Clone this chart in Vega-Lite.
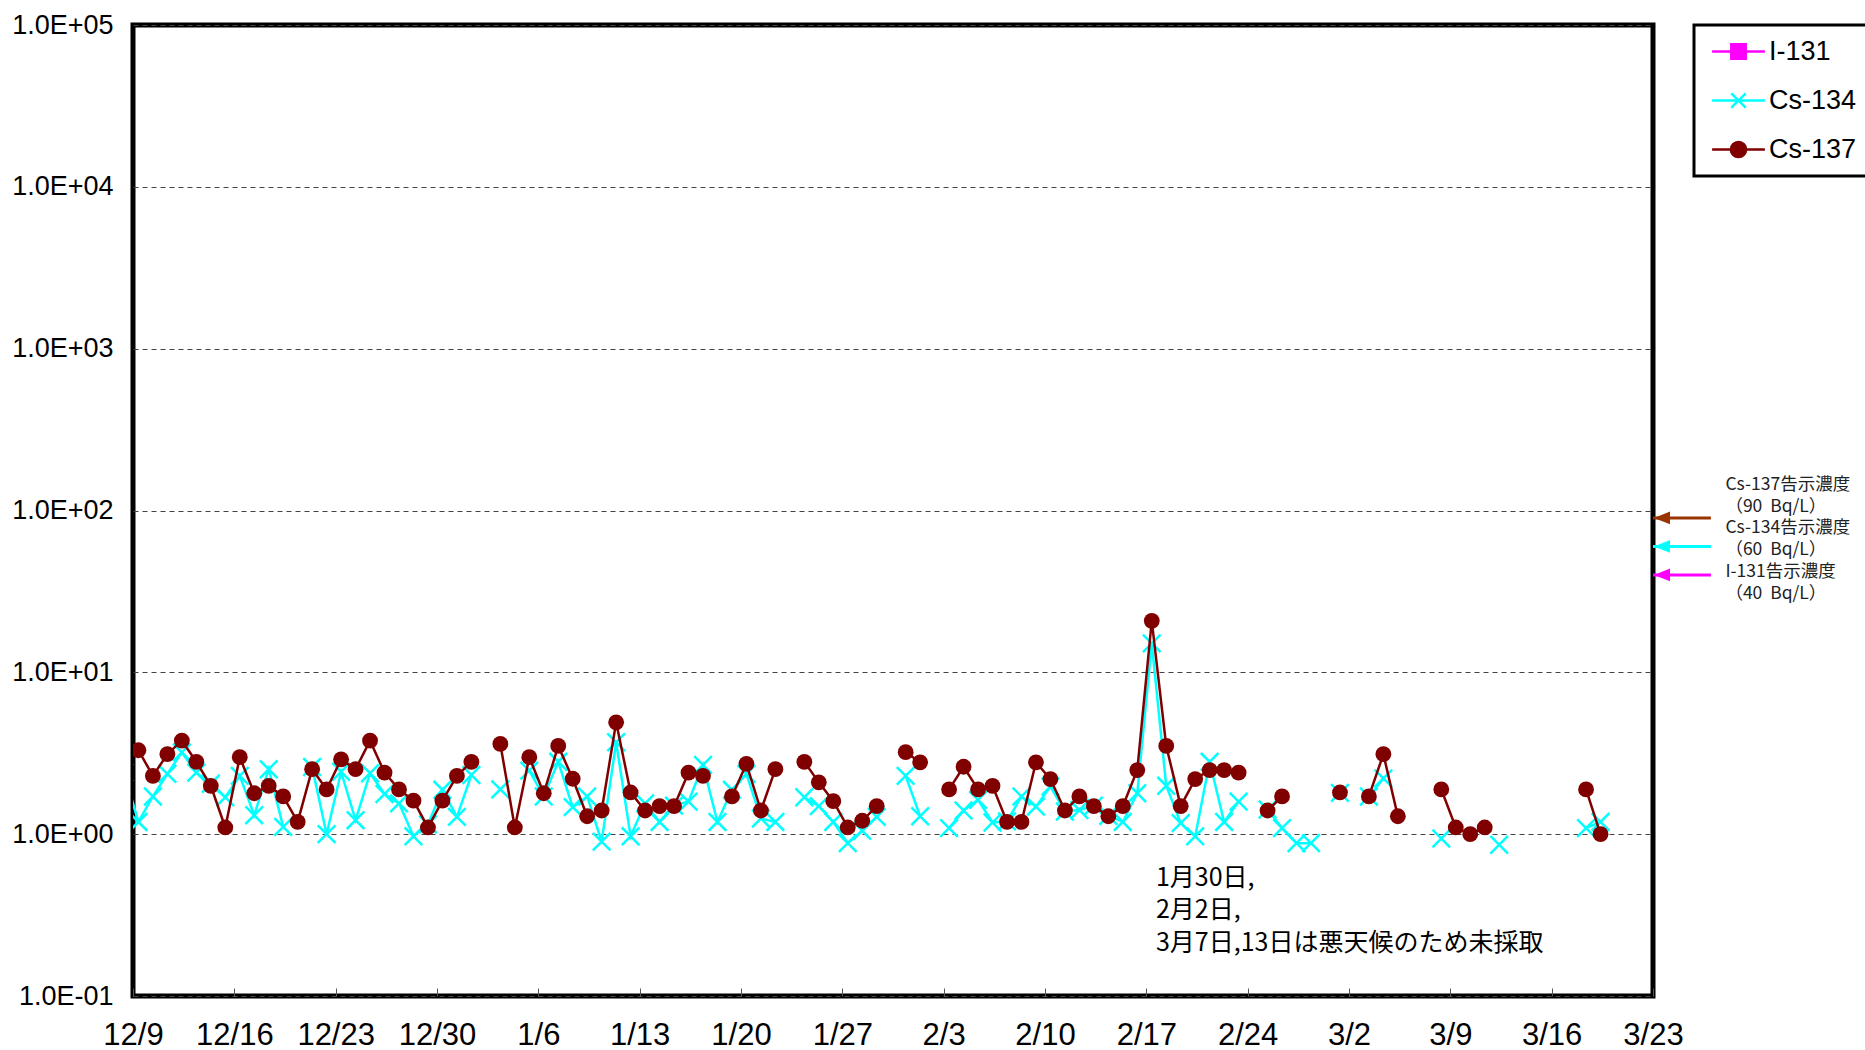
{
  "$schema": "https://vega.github.io/schema/vega-lite/v6.json",
  "width": 1520,
  "height": 971,
  "autosize": {"type": "none"},
  "padding": {"left": 133, "top": 25, "right": 212, "bottom": 54},
  "background": "white",
  "config": {
    "view": {"stroke": "black", "strokeWidth": 5},
    "font": "Liberation Sans",
    "axisX": {"title": null, "domain": false, "grid": false, "ticks": true, "tickSize": -8, "tickColor": "#555", "tickWidth": 1,
              "labelFont": "Liberation Sans Narrow, Liberation Sans", "labelFontSize": 31, "labelColor": "black",
              "labelPadding": 32, "labelFlush": false, "labelOverlap": false},
    "axisY": {"title": null, "domain": false, "ticks": false, "grid": true, "gridColor": "#444", "gridDash": [5, 4], "gridWidth": 1,
              "labelFont": "Liberation Sans", "labelFontSize": 27, "labelColor": "black", "labelPadding": 20}
  },
  "datasets": {
    "meas": [
      {"d":"2011-12-08T09:00","cs134":2.4,"cs137":3.6},
      {"d":"2011-12-09T09:00","cs134":1.19,"cs137":3.3},
      {"d":"2011-12-10T09:00","cs134":1.71,"cs137":2.29},
      {"d":"2011-12-11T09:00","cs134":2.36,"cs137":3.12},
      {"d":"2011-12-12T09:00","cs134":3.2,"cs137":3.78},
      {"d":"2011-12-13T09:00","cs134":2.4,"cs137":2.8},
      {"d":"2011-12-14T09:00","cs134":2.05,"cs137":1.99},
      {"d":"2011-12-15T09:00","cs134":1.69,"cs137":1.1},
      {"d":"2011-12-16T09:00","cs134":2.29,"cs137":2.99},
      {"d":"2011-12-17T09:00","cs134":1.31,"cs137":1.79},
      {"d":"2011-12-18T09:00","cs134":2.52,"cs137":1.99},
      {"d":"2011-12-19T09:00","cs134":1.11,"cs137":1.71},
      {"d":"2011-12-20T09:00","cs134":null,"cs137":1.19},
      {"d":"2011-12-21T09:00","cs134":2.6,"cs137":2.52},
      {"d":"2011-12-22T09:00","cs134":1.0,"cs137":1.89},
      {"d":"2011-12-23T09:00","cs134":2.43,"cs137":2.9},
      {"d":"2011-12-24T09:00","cs134":1.22,"cs137":2.52},
      {"d":"2011-12-25T09:00","cs134":2.38,"cs137":3.78},
      {"d":"2011-12-26T09:00","cs134":1.77,"cs137":2.4},
      {"d":"2011-12-27T09:00","cs134":1.55,"cs137":1.89},
      {"d":"2011-12-28T09:00","cs134":0.97,"cs137":1.61},
      {"d":"2011-12-29T09:00","cs134":1.15,"cs137":1.1},
      {"d":"2011-12-30T09:00","cs134":1.88,"cs137":1.61},
      {"d":"2011-12-31T09:00","cs134":1.28,"cs137":2.29},
      {"d":"2012-01-01T09:00","cs134":2.32,"cs137":2.8},
      {"d":"2012-01-02T09:00","cs134":null,"cs137":null},
      {"d":"2012-01-03T09:00","cs134":1.89,"cs137":3.61},
      {"d":"2012-01-04T09:00","cs134":null,"cs137":1.1},
      {"d":"2012-01-05T09:00","cs134":2.47,"cs137":2.99},
      {"d":"2012-01-06T09:00","cs134":1.71,"cs137":1.79},
      {"d":"2012-01-07T09:00","cs134":2.8,"cs137":3.51},
      {"d":"2012-01-08T09:00","cs134":1.47,"cs137":2.2},
      {"d":"2012-01-09T09:00","cs134":1.71,"cs137":1.29},
      {"d":"2012-01-10T09:00","cs134":0.9,"cs137":1.4},
      {"d":"2012-01-11T09:00","cs134":3.7,"cs137":4.91},
      {"d":"2012-01-12T09:00","cs134":0.97,"cs137":1.81},
      {"d":"2012-01-13T09:00","cs134":1.55,"cs137":1.4},
      {"d":"2012-01-14T09:00","cs134":1.19,"cs137":1.49},
      {"d":"2012-01-15T09:00","cs134":1.5,"cs137":1.49},
      {"d":"2012-01-16T09:00","cs134":1.59,"cs137":2.4},
      {"d":"2012-01-17T09:00","cs134":2.68,"cs137":2.29},
      {"d":"2012-01-18T09:00","cs134":1.19,"cs137":null},
      {"d":"2012-01-19T09:00","cs134":1.88,"cs137":1.71},
      {"d":"2012-01-20T09:00","cs134":2.36,"cs137":2.72},
      {"d":"2012-01-21T09:00","cs134":1.25,"cs137":1.4},
      {"d":"2012-01-22T09:00","cs134":1.19,"cs137":2.52},
      {"d":"2012-01-23T09:00","cs134":null,"cs137":null},
      {"d":"2012-01-24T09:00","cs134":1.69,"cs137":2.8},
      {"d":"2012-01-25T09:00","cs134":1.49,"cs137":2.09},
      {"d":"2012-01-26T09:00","cs134":1.19,"cs137":1.6},
      {"d":"2012-01-27T09:00","cs134":0.88,"cs137":1.1},
      {"d":"2012-01-28T09:00","cs134":1.05,"cs137":1.21},
      {"d":"2012-01-29T09:00","cs134":1.28,"cs137":1.49},
      {"d":"2012-01-30T09:00","cs134":null,"cs137":null},
      {"d":"2012-01-31T09:00","cs134":2.29,"cs137":3.21},
      {"d":"2012-02-01T09:00","cs134":1.29,"cs137":2.78},
      {"d":"2012-02-02T09:00","cs134":null,"cs137":null},
      {"d":"2012-02-03T09:00","cs134":1.09,"cs137":1.89},
      {"d":"2012-02-04T09:00","cs134":1.4,"cs137":2.61},
      {"d":"2012-02-05T09:00","cs134":1.63,"cs137":1.89},
      {"d":"2012-02-06T09:00","cs134":1.18,"cs137":1.99},
      {"d":"2012-02-07T09:00","cs134":1.2,"cs137":1.19},
      {"d":"2012-02-08T09:00","cs134":1.71,"cs137":1.19},
      {"d":"2012-02-09T09:00","cs134":1.48,"cs137":2.78},
      {"d":"2012-02-10T09:00","cs134":1.97,"cs137":2.19},
      {"d":"2012-02-11T09:00","cs134":1.38,"cs137":1.4},
      {"d":"2012-02-12T09:00","cs134":1.41,"cs137":1.71},
      {"d":"2012-02-13T09:00","cs134":1.5,"cs137":1.49},
      {"d":"2012-02-14T09:00","cs134":1.3,"cs137":1.29},
      {"d":"2012-02-15T09:00","cs134":1.19,"cs137":1.49},
      {"d":"2012-02-16T09:00","cs134":1.79,"cs137":2.49},
      {"d":"2012-02-17T09:00","cs134":15.1,"cs137":20.8},
      {"d":"2012-02-18T09:00","cs134":1.99,"cs137":3.51},
      {"d":"2012-02-19T09:00","cs134":1.17,"cs137":1.49},
      {"d":"2012-02-20T09:00","cs134":0.97,"cs137":2.19},
      {"d":"2012-02-21T09:00","cs134":2.8,"cs137":2.49},
      {"d":"2012-02-22T09:00","cs134":1.19,"cs137":2.49},
      {"d":"2012-02-23T09:00","cs134":1.59,"cs137":2.4},
      {"d":"2012-02-24T09:00","cs134":null,"cs137":null},
      {"d":"2012-02-25T09:00","cs134":1.42,"cs137":1.4},
      {"d":"2012-02-26T09:00","cs134":1.09,"cs137":1.71},
      {"d":"2012-02-27T09:00","cs134":0.88,"cs137":null},
      {"d":"2012-02-28T09:00","cs134":0.88,"cs137":null},
      {"d":"2012-02-29T09:00","cs134":null,"cs137":null},
      {"d":"2012-03-01T09:00","cs134":1.8,"cs137":1.81},
      {"d":"2012-03-02T09:00","cs134":null,"cs137":null},
      {"d":"2012-03-03T09:00","cs134":1.71,"cs137":1.71},
      {"d":"2012-03-04T09:00","cs134":2.21,"cs137":3.12},
      {"d":"2012-03-05T09:00","cs134":null,"cs137":1.29},
      {"d":"2012-03-06T09:00","cs134":null,"cs137":null},
      {"d":"2012-03-07T09:00","cs134":null,"cs137":null},
      {"d":"2012-03-08T09:00","cs134":0.94,"cs137":1.89},
      {"d":"2012-03-09T09:00","cs134":null,"cs137":1.1},
      {"d":"2012-03-10T09:00","cs134":null,"cs137":1.0},
      {"d":"2012-03-11T09:00","cs134":null,"cs137":1.1},
      {"d":"2012-03-12T09:00","cs134":0.86,"cs137":null},
      {"d":"2012-03-13T09:00","cs134":null,"cs137":null},
      {"d":"2012-03-14T09:00","cs134":null,"cs137":null},
      {"d":"2012-03-15T09:00","cs134":null,"cs137":null},
      {"d":"2012-03-16T09:00","cs134":null,"cs137":null},
      {"d":"2012-03-17T09:00","cs134":null,"cs137":null},
      {"d":"2012-03-18T09:00","cs134":1.09,"cs137":1.89},
      {"d":"2012-03-19T09:00","cs134":1.19,"cs137":1.0}
    ],
    "limits": [
      {"nuclide":"I-131","limit":40},
      {"nuclide":"Cs-134","limit":60},
      {"nuclide":"Cs-137","limit":90}
    ],
    "nuclides": [
      {"nuclide":"I-131"},
      {"nuclide":"Cs-134"},
      {"nuclide":"Cs-137"}
    ]
  },
  "resolve": {"scale": {"color": "independent", "fill": "independent", "stroke": "independent", "shape": "independent"}},
  "layer": [
    {
      "data": {"name": "meas"},
      "mark": {"type": "line", "color": "#00FFFF", "strokeWidth": 2.5, "clip": true, "invalid": "break-paths-filter-domains"},
      "encoding": {
        "x": {"field": "d", "type": "temporal",
              "scale": {"type": "time", "domain": [{"year":2011,"month":12,"date":9},{"year":2012,"month":3,"date":23}]},
              "axis": {"title": null, "format": "%-m/%-d",
                       "values": [{"year":2011,"month":12,"date":9},{"year":2011,"month":12,"date":16},{"year":2011,"month":12,"date":23},{"year":2011,"month":12,"date":30},
                                  {"year":2012,"month":1,"date":6},{"year":2012,"month":1,"date":13},{"year":2012,"month":1,"date":20},{"year":2012,"month":1,"date":27},
                                  {"year":2012,"month":2,"date":3},{"year":2012,"month":2,"date":10},{"year":2012,"month":2,"date":17},{"year":2012,"month":2,"date":24},
                                  {"year":2012,"month":3,"date":2},{"year":2012,"month":3,"date":9},{"year":2012,"month":3,"date":16},{"year":2012,"month":3,"date":23}]}},
        "y": {"field": "cs134", "type": "quantitative",
              "scale": {"type": "log", "domain": [0.1, 100000], "nice": false},
              "axis": {"title": null, "values": [0.1, 1, 10, 100, 1000, 10000, 100000],
                       "labelExpr": "datum.value >= 1 ? '1.0E+0' + format(log(datum.value)/LN10, '.0f') : '1.0E-0' + format(-log(datum.value)/LN10, '.0f')"}}
      }
    },
    {
      "data": {"name": "meas"},
      "mark": {"type": "point", "shape": "M-1,-1L1,1M-1,1L1,-1", "size": 310, "strokeWidth": 2.5, "color": "#00FFFF", "filled": false, "opacity": 1, "clip": true},
      "encoding": {
        "x": {"field": "d", "type": "temporal",
              "scale": {"type": "time", "domain": [{"year":2011,"month":12,"date":9},{"year":2012,"month":3,"date":23}]},
              "axis": {"title": null, "format": "%-m/%-d",
                       "values": [{"year":2011,"month":12,"date":9},{"year":2011,"month":12,"date":16},{"year":2011,"month":12,"date":23},{"year":2011,"month":12,"date":30},
                                  {"year":2012,"month":1,"date":6},{"year":2012,"month":1,"date":13},{"year":2012,"month":1,"date":20},{"year":2012,"month":1,"date":27},
                                  {"year":2012,"month":2,"date":3},{"year":2012,"month":2,"date":10},{"year":2012,"month":2,"date":17},{"year":2012,"month":2,"date":24},
                                  {"year":2012,"month":3,"date":2},{"year":2012,"month":3,"date":9},{"year":2012,"month":3,"date":16},{"year":2012,"month":3,"date":23}]}},
        "y": {"field": "cs134", "type": "quantitative",
              "scale": {"type": "log", "domain": [0.1, 100000], "nice": false},
              "axis": {"title": null, "values": [0.1, 1, 10, 100, 1000, 10000, 100000],
                       "labelExpr": "datum.value >= 1 ? '1.0E+0' + format(log(datum.value)/LN10, '.0f') : '1.0E-0' + format(-log(datum.value)/LN10, '.0f')"}}
      }
    },
    {
      "data": {"name": "meas"},
      "mark": {"type": "line", "color": "#800000", "strokeWidth": 2.5, "clip": true, "invalid": "break-paths-filter-domains"},
      "encoding": {
        "x": {"field": "d", "type": "temporal",
              "scale": {"type": "time", "domain": [{"year":2011,"month":12,"date":9},{"year":2012,"month":3,"date":23}]},
              "axis": {"title": null, "format": "%-m/%-d",
                       "values": [{"year":2011,"month":12,"date":9},{"year":2011,"month":12,"date":16},{"year":2011,"month":12,"date":23},{"year":2011,"month":12,"date":30},
                                  {"year":2012,"month":1,"date":6},{"year":2012,"month":1,"date":13},{"year":2012,"month":1,"date":20},{"year":2012,"month":1,"date":27},
                                  {"year":2012,"month":2,"date":3},{"year":2012,"month":2,"date":10},{"year":2012,"month":2,"date":17},{"year":2012,"month":2,"date":24},
                                  {"year":2012,"month":3,"date":2},{"year":2012,"month":3,"date":9},{"year":2012,"month":3,"date":16},{"year":2012,"month":3,"date":23}]}},
        "y": {"field": "cs137", "type": "quantitative",
              "scale": {"type": "log", "domain": [0.1, 100000], "nice": false},
              "axis": {"title": null, "values": [0.1, 1, 10, 100, 1000, 10000, 100000],
                       "labelExpr": "datum.value >= 1 ? '1.0E+0' + format(log(datum.value)/LN10, '.0f') : '1.0E-0' + format(-log(datum.value)/LN10, '.0f')"}}
      }
    },
    {
      "data": {"name": "meas"},
      "mark": {"type": "point", "shape": "circle", "size": 250, "color": "#800000", "filled": true, "opacity": 1, "clip": true},
      "encoding": {
        "x": {"field": "d", "type": "temporal",
              "scale": {"type": "time", "domain": [{"year":2011,"month":12,"date":9},{"year":2012,"month":3,"date":23}]},
              "axis": {"title": null, "format": "%-m/%-d",
                       "values": [{"year":2011,"month":12,"date":9},{"year":2011,"month":12,"date":16},{"year":2011,"month":12,"date":23},{"year":2011,"month":12,"date":30},
                                  {"year":2012,"month":1,"date":6},{"year":2012,"month":1,"date":13},{"year":2012,"month":1,"date":20},{"year":2012,"month":1,"date":27},
                                  {"year":2012,"month":2,"date":3},{"year":2012,"month":2,"date":10},{"year":2012,"month":2,"date":17},{"year":2012,"month":2,"date":24},
                                  {"year":2012,"month":3,"date":2},{"year":2012,"month":3,"date":9},{"year":2012,"month":3,"date":16},{"year":2012,"month":3,"date":23}]}},
        "y": {"field": "cs137", "type": "quantitative",
              "scale": {"type": "log", "domain": [0.1, 100000], "nice": false},
              "axis": {"title": null, "values": [0.1, 1, 10, 100, 1000, 10000, 100000],
                       "labelExpr": "datum.value >= 1 ? '1.0E+0' + format(log(datum.value)/LN10, '.0f') : '1.0E-0' + format(-log(datum.value)/LN10, '.0f')"}}
      }
    },
    {
      "data": {"name": "limits"},
      "mark": {"type": "rule", "strokeWidth": 3},
      "encoding": {
        "x": {"datum": {"year":2012,"month":3,"date":23}, "type": "temporal",
              "scale": {"type": "time", "domain": [{"year":2011,"month":12,"date":9},{"year":2012,"month":3,"date":23}]},
              "axis": {"title": null, "format": "%-m/%-d",
                       "values": [{"year":2011,"month":12,"date":9},{"year":2011,"month":12,"date":16},{"year":2011,"month":12,"date":23},{"year":2011,"month":12,"date":30},
                                  {"year":2012,"month":1,"date":6},{"year":2012,"month":1,"date":13},{"year":2012,"month":1,"date":20},{"year":2012,"month":1,"date":27},
                                  {"year":2012,"month":2,"date":3},{"year":2012,"month":2,"date":10},{"year":2012,"month":2,"date":17},{"year":2012,"month":2,"date":24},
                                  {"year":2012,"month":3,"date":2},{"year":2012,"month":3,"date":9},{"year":2012,"month":3,"date":16},{"year":2012,"month":3,"date":23}]}},
        "x2": {"datum": {"year":2012,"month":3,"date":27}},
        "y": {"field": "limit", "type": "quantitative",
              "scale": {"type": "log", "domain": [0.1, 100000], "nice": false},
              "axis": {"title": null, "values": [0.1, 1, 10, 100, 1000, 10000, 100000],
                       "labelExpr": "datum.value >= 1 ? '1.0E+0' + format(log(datum.value)/LN10, '.0f') : '1.0E-0' + format(-log(datum.value)/LN10, '.0f')"}},
        "color": {"field": "nuclide", "type": "nominal", "scale": {"domain": ["I-131","Cs-134","Cs-137"], "range": ["#FF00FF","#00FFFF","#993300"]}, "legend": null}
      }
    },
    {
      "data": {"name": "limits"},
      "mark": {"type": "point", "shape": "M-1,0L1,-0.8L1,0.8Z", "size": 256, "filled": true, "opacity": 1, "xOffset": 9},
      "encoding": {
        "x": {"datum": {"year":2012,"month":3,"date":23}, "type": "temporal",
              "scale": {"type": "time", "domain": [{"year":2011,"month":12,"date":9},{"year":2012,"month":3,"date":23}]},
              "axis": {"title": null, "format": "%-m/%-d",
                       "values": [{"year":2011,"month":12,"date":9},{"year":2011,"month":12,"date":16},{"year":2011,"month":12,"date":23},{"year":2011,"month":12,"date":30},
                                  {"year":2012,"month":1,"date":6},{"year":2012,"month":1,"date":13},{"year":2012,"month":1,"date":20},{"year":2012,"month":1,"date":27},
                                  {"year":2012,"month":2,"date":3},{"year":2012,"month":2,"date":10},{"year":2012,"month":2,"date":17},{"year":2012,"month":2,"date":24},
                                  {"year":2012,"month":3,"date":2},{"year":2012,"month":3,"date":9},{"year":2012,"month":3,"date":16},{"year":2012,"month":3,"date":23}]}},
        "y": {"field": "limit", "type": "quantitative",
              "scale": {"type": "log", "domain": [0.1, 100000], "nice": false},
              "axis": {"title": null, "values": [0.1, 1, 10, 100, 1000, 10000, 100000],
                       "labelExpr": "datum.value >= 1 ? '1.0E+0' + format(log(datum.value)/LN10, '.0f') : '1.0E-0' + format(-log(datum.value)/LN10, '.0f')"}},
        "color": {"field": "nuclide", "type": "nominal", "scale": {"domain": ["I-131","Cs-134","Cs-137"], "range": ["#FF00FF","#00FFFF","#993300"]}, "legend": null}
      }
    },
    {
      "data": {"values": [{}]},
      "mark": {"type": "text", "align": "left", "baseline": "top", "dy": -42, "font": "Noto Sans CJK JP", "fontSize": 17.5, "lineHeight": 21.8, "color": "#222",
               "text": ["Cs-137告示濃度", "（90\u00a0\u00a0Bq/L）", "Cs-134告示濃度", "（60\u00a0\u00a0Bq/L）", "I-131告示濃度", "（40\u00a0\u00a0Bq/L）"]},
      "encoding": {
        "x": {"datum": {"year":2012,"month":3,"date":28}, "type": "temporal",
              "scale": {"type": "time", "domain": [{"year":2011,"month":12,"date":9},{"year":2012,"month":3,"date":23}]},
              "axis": {"title": null, "format": "%-m/%-d",
                       "values": [{"year":2011,"month":12,"date":9},{"year":2011,"month":12,"date":16},{"year":2011,"month":12,"date":23},{"year":2011,"month":12,"date":30},
                                  {"year":2012,"month":1,"date":6},{"year":2012,"month":1,"date":13},{"year":2012,"month":1,"date":20},{"year":2012,"month":1,"date":27},
                                  {"year":2012,"month":2,"date":3},{"year":2012,"month":2,"date":10},{"year":2012,"month":2,"date":17},{"year":2012,"month":2,"date":24},
                                  {"year":2012,"month":3,"date":2},{"year":2012,"month":3,"date":9},{"year":2012,"month":3,"date":16},{"year":2012,"month":3,"date":23}]}},
        "y": {"datum": 90, "type": "quantitative",
              "scale": {"type": "log", "domain": [0.1, 100000], "nice": false},
              "axis": {"title": null, "values": [0.1, 1, 10, 100, 1000, 10000, 100000],
                       "labelExpr": "datum.value >= 1 ? '1.0E+0' + format(log(datum.value)/LN10, '.0f') : '1.0E-0' + format(-log(datum.value)/LN10, '.0f')"}}
      }
    },
    {
      "data": {"values": [{}]},
      "mark": {"type": "text", "align": "left", "baseline": "top", "font": "Noto Sans CJK JP", "fontSize": 25, "lineHeight": 32.5, "color": "black",
               "text": ["1月30日,", "2月2日,", "3月7日,13日は悪天候のため未採取"]},
      "encoding": {
        "x": {"datum": {"year":2012,"month":2,"date":17,"hours":16}, "type": "temporal",
              "scale": {"type": "time", "domain": [{"year":2011,"month":12,"date":9},{"year":2012,"month":3,"date":23}]},
              "axis": {"title": null, "format": "%-m/%-d",
                       "values": [{"year":2011,"month":12,"date":9},{"year":2011,"month":12,"date":16},{"year":2011,"month":12,"date":23},{"year":2011,"month":12,"date":30},
                                  {"year":2012,"month":1,"date":6},{"year":2012,"month":1,"date":13},{"year":2012,"month":1,"date":20},{"year":2012,"month":1,"date":27},
                                  {"year":2012,"month":2,"date":3},{"year":2012,"month":2,"date":10},{"year":2012,"month":2,"date":17},{"year":2012,"month":2,"date":24},
                                  {"year":2012,"month":3,"date":2},{"year":2012,"month":3,"date":9},{"year":2012,"month":3,"date":16},{"year":2012,"month":3,"date":23}]}},
        "y": {"datum": 0.64, "type": "quantitative",
              "scale": {"type": "log", "domain": [0.1, 100000], "nice": false},
              "axis": {"title": null, "values": [0.1, 1, 10, 100, 1000, 10000, 100000],
                       "labelExpr": "datum.value >= 1 ? '1.0E+0' + format(log(datum.value)/LN10, '.0f') : '1.0E-0' + format(-log(datum.value)/LN10, '.0f')"}}
      }
    },
    {
      "data": {"name": "nuclides"},
      "mark": {"type": "point", "filled": true, "opacity": 0},
      "encoding": {
        "fill": {"field": "nuclide", "type": "nominal", "scale": {"domain": ["I-131","Cs-134","Cs-137"], "range": ["#FF00FF","#00FFFF","#800000"]},
                 "legend": {"orient": "none", "legendX": 1561, "legendY": 0, "title": null, "symbolSize": 256, "symbolStrokeWidth": 2.5, "symbolOpacity": 1,
                            "symbolOffset": 18, "labelOffset": 17, "labelFont": "Liberation Sans", "labelFontSize": 27, "labelColor": "black",
                            "rowPadding": 21, "padding": 13, "strokeColor": "black", "fillColor": "white",
                            "encode": {"legend": {"update": {"strokeWidth": {"value": 3}}}}}},
        "stroke": {"field": "nuclide", "type": "nominal", "scale": {"domain": ["I-131","Cs-134","Cs-137"], "range": ["#FF00FF","#00FFFF","#800000"]},
                 "legend": {"orient": "none", "legendX": 1561, "legendY": 0, "title": null, "symbolSize": 256, "symbolStrokeWidth": 2.5, "symbolOpacity": 1,
                            "symbolOffset": 18, "labelOffset": 17, "labelFont": "Liberation Sans", "labelFontSize": 27, "labelColor": "black",
                            "rowPadding": 21, "padding": 13, "strokeColor": "black", "fillColor": "white",
                            "encode": {"legend": {"update": {"strokeWidth": {"value": 3}}}}}},
        "shape": {"field": "nuclide", "type": "nominal",
                  "scale": {"domain": ["I-131","Cs-134","Cs-137"],
                            "range": ["M-3.3,0H3.3M-0.9,-0.9H0.9V0.9H-0.9Z",
                                      "M-3.3,0H3.3M-0.9,-0.9L0.9,0.9M-0.9,0.9L0.9,-0.9",
                                      "M-3.3,0H3.3M-0.95,0A0.95,0.95,0,1,1,0.95,0A0.95,0.95,0,1,1,-0.95,0Z"]},
                 "legend": {"orient": "none", "legendX": 1561, "legendY": 0, "title": null, "symbolSize": 256, "symbolStrokeWidth": 2.5, "symbolOpacity": 1,
                            "symbolOffset": 18, "labelOffset": 17, "labelFont": "Liberation Sans", "labelFontSize": 27, "labelColor": "black",
                            "rowPadding": 21, "padding": 13, "strokeColor": "black", "fillColor": "white",
                            "encode": {"legend": {"update": {"strokeWidth": {"value": 3}}}}}}
      }
    }
  ]
}
